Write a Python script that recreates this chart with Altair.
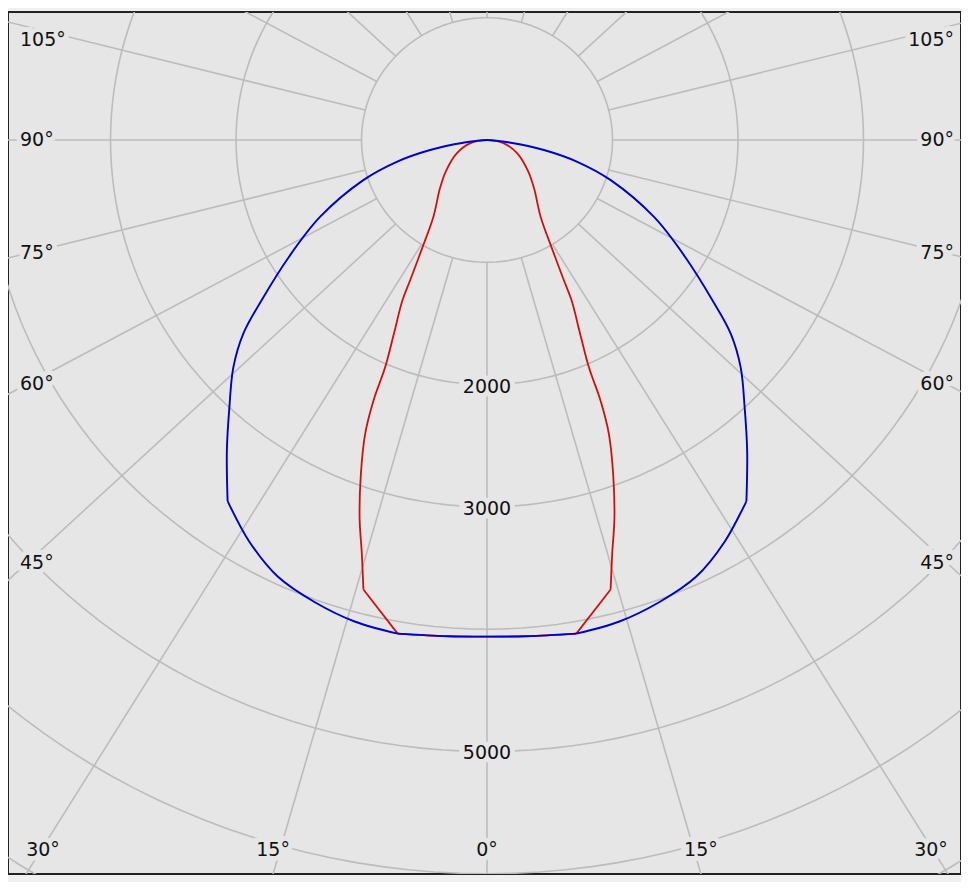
import math
import altair as alt
import pandas as pd

# ---------------- data ----------------
RINGS = [1000, 2000, 3000, 4000, 5000, 6000, 7000]        # cd rings
RING_LABELS = [2000, 3000, 5000]                           # labelled rings
RAY_ANGLES = list(range(0, 360, 15))                       # radial grid (deg)
ANGLE_LABELS = [0, 15, 30, 45, 60, 75, 90, 105]            # labelled angles

# blue curve: angle from nadir (deg) -> intensity (cd), symmetric
BLUE_ANG = [0, 4.5, 10, 15, 20, 25, 30, 35, 39.2, 43.2, 47.4, 50.8, 53.9,
            58.9, 64.7, 71.6, 76.1, 79.8, 83.4, 90]
BLUE_VAL = [4061, 4070, 4099, 4076, 4020, 3941, 3790, 3604, 3280, 2999, 2746,
            2507, 2223, 1839, 1472, 1039, 741, 461, 190, 0]
BLUE_CORNERS = [10, 35]     # angles where the blue line has a sharp corner

# red curve: angle from nadir (deg) -> intensity (cd), symmetric
RED_ANG = [0, 4.5, 10, 15, 16.4, 18.2, 20.2, 22.0, 23.0, 23.6, 25.1, 27.2,
           28.1, 30.4, 34.2, 43.6, 52.2, 65.7, 78.7, 90]
RED_VAL = [4061, 4070, 4099, 3805, 3532, 3251, 2911, 2593, 2316, 2028, 1749,
           1474, 1302, 1015, 761, 543, 414, 265, 138, 0]
RED_CORNERS = [10, 15]

# ---------------- layout / style ----------------
W, H = 953, 862
X_DOM = [-3817, 3777]
Y_DOM = [-6002, 1047]
PX = W / (X_DOM[1] - X_DOM[0])
PY = H / (Y_DOM[1] - Y_DOM[0])
RAY_K = 1.06          # horizontal stretch of the radial grid lines
INNER = 1000          # radial lines start at the inner ring
HALF_W = 479          # px from centre to the side frame
BG = "#e6e6e6"
GRID = "#bcbcbc"
TXT = "#111111"
FONT = "DejaVu Sans"
FS = 19


def polar(ang, val, side):
    a = math.radians(ang)
    return side * val * math.sin(a), -val * math.cos(a)


def curve_pieces(name, angs, vals, corners):
    """Split the symmetric curve into smooth pieces joined at sharp corners."""
    rows = []

    def add(pid, seq):
        for i, (a, v) in enumerate(seq):
            x, y = polar(abs(a), v, 1 if a >= 0 else -1)
            rows.append({"s": name, "p": name + pid, "x": x, "y": y, "i": i})

    pairs = list(zip(angs, vals))
    c0 = corners[0]
    bottom = [(-a, v) for a, v in reversed(pairs) if a <= c0 + 1e-9] + \
             [(a, v) for a, v in pairs if 0 < a <= c0 + 1e-9]
    add("bottom", bottom)
    for k in range(len(corners) - 1):
        lo, hi = corners[k], corners[k + 1]
        seg = [(a, v) for a, v in pairs if lo - 1e-9 <= a <= hi + 1e-9]
        add(f"r{k}", seg)
        add(f"l{k}", [(-a, v) for a, v in seg])
    last = corners[-1]
    seg = [(a, v) for a, v in pairs if a >= last - 1e-9]
    top = [(-a, v) for a, v in seg] + [(a, v) for a, v in reversed(seg)][1:]
    add("top", top)
    return rows


red_df = pd.DataFrame(curve_pieces("red", RED_ANG, RED_VAL, RED_CORNERS))
blue_df = pd.DataFrame(curve_pieces("blue", BLUE_ANG, BLUE_VAL, BLUE_CORNERS))

# rings
rrow = []
for r in RINGS:
    for k in range(0, 361, 2):
        p = math.radians(k)
        rrow.append({"id": r, "x": r * math.cos(p), "y": r * math.sin(p), "i": k})
rings = pd.DataFrame(rrow)

# rays
yrow = []
for deg in RAY_ANGLES:
    a = math.radians(deg)
    dx, dy = RAY_K * math.sin(a), -math.cos(a)
    n = math.hypot(dx, dy)
    yrow.append({"id": deg, "x": INNER * dx / n, "y": INNER * dy / n, "i": 0})
    yrow.append({"id": deg, "x": 12000 * dx, "y": 12000 * dy, "i": 1})
rays = pd.DataFrame(yrow)

# angle labels (placed where each ray meets the frame)
xe, yb, yt = HALF_W / PX, Y_DOM[0], Y_DOM[1]
lrow = []
for deg in ANGLE_LABELS:
    for side in ([1] if deg == 0 else [-1, 1]):
        a = math.radians(deg)
        dx, dy = side * RAY_K * math.sin(a), -math.cos(a)
        tx = xe / abs(dx) if abs(dx) > 1e-9 else float("inf")
        ty = (-yb) / (-dy) if dy < -1e-9 else float("inf")
        if ty <= tx:
            lim = (HALF_W - 35) / PX
            xl = max(-lim, min(lim, dx * ty))
            yl = yb + 24 / PY
            al = "center"
        else:
            t_in = ((HALF_W - 19) / PX) / abs(dx)
            yl = min(dy * t_in, yt - 28 / PY)
            xl = side * (HALF_W - 12) / PX
            al = "left" if side < 0 else "right"
        lrow.append({"x": xl, "y": yl, "t": f"{deg}°", "al": al})
alabels = pd.DataFrame(lrow)

rlabels = pd.DataFrame({"x": [0] * len(RING_LABELS),
                        "y": [-v for v in RING_LABELS],
                        "t": [str(v) for v in RING_LABELS]})

xs = alt.X("x:Q", scale=alt.Scale(domain=X_DOM, nice=False, zero=False), axis=None)
ys = alt.Y("y:Q", scale=alt.Scale(domain=Y_DOM, nice=False, zero=False), axis=None)

ring_layer = alt.Chart(rings).mark_line(clip=True, color=GRID, strokeWidth=1.6).encode(
    x=xs, y=ys, detail="id:N", order="i:Q")
ray_layer = alt.Chart(rays).mark_line(clip=True, color=GRID, strokeWidth=1.6).encode(
    x=xs, y=ys, detail="id:N", order="i:Q")


def text_pair(df, align, dy=0):
    halo = alt.Chart(df).mark_text(align=align, baseline="middle", font=FONT,
                                   fontSize=FS, fill=BG, stroke=BG, dy=dy,
                                   strokeWidth=10).encode(x=xs, y=ys, text="t:N")
    txt = alt.Chart(df).mark_text(align=align, baseline="middle", font=FONT,
                                  fontSize=FS, fill=TXT, dy=dy).encode(x=xs, y=ys, text="t:N")
    return [halo, txt]


label_layers = []
for al in ("left", "center", "right"):
    sub = alabels[alabels["al"] == al]
    if len(sub):
        label_layers += text_pair(sub, al)
label_layers += text_pair(rlabels, "center", dy=2)

red_layer = alt.Chart(red_df).mark_line(
    clip=True, color="#d01010", strokeWidth=1.8, interpolate="catmull-rom").encode(
    x=xs, y=ys, detail="p:N", order="i:Q")
blue_layer = alt.Chart(blue_df).mark_line(
    clip=True, color="#0000c8", strokeWidth=1.9, interpolate="catmull-rom").encode(
    x=xs, y=ys, detail="p:N", order="i:Q")

chart = alt.layer(ring_layer, ray_layer, *label_layers, red_layer, blue_layer).properties(
    width=W, height=H, background="#f0f0f0", autosize="none",
    padding={"top": 4, "left": 0, "right": 0, "bottom": 8},
).configure_view(fill=BG, stroke="#222222", strokeWidth=2)

chart.save("out.html", embed_options={"renderer": "svg", "actions": False})
